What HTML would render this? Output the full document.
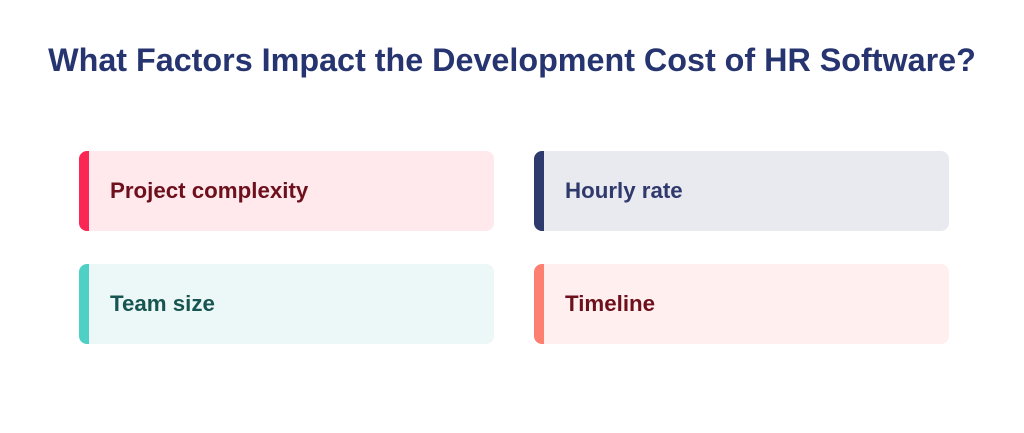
<!DOCTYPE html><html><head><style>
body{margin:0;width:1024px;height:433px;background:#fff;position:relative;overflow:hidden;font-family:"Liberation Sans",sans-serif}
h1{position:absolute;left:0;width:1024px;top:42px;margin:0;text-align:center;font-size:32.3px;font-weight:bold;color:#263470;letter-spacing:0px;white-space:nowrap}
.c{position:absolute;width:415px;height:80px;border-radius:8px;box-sizing:border-box;padding-left:31px;line-height:80px;font-size:22.3px;font-weight:bold;overflow:hidden}
.c:before{content:"";position:absolute;left:0;top:0;bottom:0;width:10px}
</style></head><body>
<h1>What Factors Impact the Development Cost of HR Software?</h1>
<div class="c" style="left:79px;top:151px;background:#ffe9ec;color:#6e0f1c">Project complexity</div>
<div class="c" style="left:534px;top:151px;background:#e9eaf0;color:#30396b">Hourly rate</div>
<div class="c" style="left:79px;top:264px;background:#ecf8f8;color:#175650">Team size</div>
<div class="c" style="left:534px;top:264px;background:#fff0ef;color:#6e0f1c">Timeline</div>
<style>
.c:nth-of-type(1):before{background:#fb2654}
.c:nth-of-type(2):before{background:#2e3a6d}
.c:nth-of-type(3):before{background:#4fd0c4}
.c:nth-of-type(4):before{background:#fc7f70}
</style>
</body></html>
